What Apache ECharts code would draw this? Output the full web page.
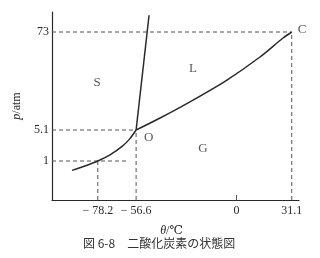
<!DOCTYPE html>
<html>
<head>
<meta charset="utf-8">
<script src="https://cdn.jsdelivr.net/npm/echarts@6/dist/echarts.min.js"></script>
<style>html,body{margin:0;padding:0;background:#fff}#c{width:320px;height:258px}</style>
</head>
<body>
<div id="c"></div>
<script>
// ---- data (temperature in °C, pressure in atm) ----
const xTicks = [-78.2, -56.6, 0, 31.1];
const yTicks = [1, 5.1, 73];
const sublimation = [[-92.7, 0.61], [-85.4, 0.77], [-78.2, 1], [-71.3, 1.38], [-64.5, 2.15], [-60.2, 3.2], [-56.6, 5.1]];
const vaporization = [[-56.6, 5.1], [-43.1, 7.06], [-24.5, 11.5], [-5.4, 19.8], [13.2, 37.0], [26.2, 62.0], [31.1, 73]];
const melting = [[-56.6, 5.1], [-49.3, 115]];
const triplePoint = [-56.6, 5.1];
const criticalPoint = [31.1, 73];
const point1atm = [-78.2, 1];
const guide1End = -61.7;
const regionNames = ['S', 'L', 'G'];
const regionPos = [[-78.6, 18.3], [-24.5, 26.7], [-18.9, 1.88]];
const caption = '図 6-8\u3000二酸化炭素の状態図';

// ---- schematic (broken) pressure scale: pressure -> axis level ----
const anchorP = [1, 5.1, 73];
const anchorLv = [39, 70, 168];
function lv(p) {
  const L = Math.log10(p);
  const a = anchorP.map(Math.log10);
  const i = L <= a[1] ? 0 : 1;
  return anchorLv[i] + (L - a[i]) * (anchorLv[i + 1] - anchorLv[i]) / (a[i + 1] - a[i]);
}
const toPt = d => [d[0], lv(d[1])];

const xMin = -104, xMax = 35.2;
const serif = '"Liberation Serif", "DejaVu Serif", serif';
const ink = '#2a2a2a';
const dashStyle = { color: '#555', width: 1, type: [4, 3] };

const guides = [
  [[xMin, lv(point1atm[1])], [guide1End, lv(point1atm[1])]],
  [[xMin, lv(triplePoint[1])], toPt(triplePoint)],
  [[xMin, lv(criticalPoint[1])], toPt(criticalPoint)],
  [[point1atm[0], 0], toPt(point1atm)],
  [[triplePoint[0], 0], toPt(triplePoint)],
  [[criticalPoint[0], 0], toPt(criticalPoint)]
];

const series = [];
guides.forEach(g => series.push({
  type: 'line', data: g, symbol: 'none', silent: true,
  lineStyle: dashStyle, z: 1
}));
series.push({ type: 'line', data: sublimation.map(toPt), smooth: 0.3, symbol: 'none', lineStyle: { color: ink, width: 1.5 }, z: 3 });
series.push({ type: 'line', data: vaporization.map(toPt), smooth: 0.3, symbol: 'none', lineStyle: { color: ink, width: 1.5 }, z: 3 });
series.push({ type: 'line', data: melting.map(toPt), symbol: 'none', lineStyle: { color: ink, width: 1.5 }, z: 3 });
series.push({
  type: 'scatter', symbolSize: 0, z: 4,
  data: regionNames.map((n, i) => ({ name: n, value: toPt(regionPos[i]) })),
  label: { show: true, position: 'inside', formatter: '{b}', color: ink, fontFamily: serif, fontSize: 13 }
});
series.push({
  type: 'scatter', symbolSize: 0, z: 4,
  data: [
    { name: 'O', value: toPt(triplePoint), label: { position: 'right', offset: [3, 8] } },
    { name: 'C', value: toPt(criticalPoint), label: { position: 'right', offset: [1, -2] } }
  ],
  label: { show: true, formatter: '{b}', color: ink, fontFamily: serif, fontSize: 13 }
});

const chart = echarts.init(document.getElementById('c'), null, { renderer: 'canvas' });
chart.setOption({
  animation: false,
  backgroundColor: '#fff',
  grid: { left: 52, right: 21, top: 12, bottom: 58 },
  xAxis: {
    type: 'value', min: xMin, max: xMax,
    name: '{i|θ}/℃', nameLocation: 'middle', nameGap: 25,
    nameTextStyle: { color: ink, fontFamily: serif, fontSize: 12, padding: [0, 8, 0, 0], rich: { i: { fontStyle: 'italic', fontFamily: serif, fontSize: 12, color: ink } } },
    axisLine: { onZero: false, lineStyle: { color: ink, width: 1.2 } },
    axisTick: { show: true, inside: true, length: 5, customValues: [0], lineStyle: { color: '#555' } },
    axisLabel: {
      customValues: xTicks, color: ink, fontFamily: serif, fontSize: 12, margin: 5,
      formatter: v => v < 0 ? '\u2212 ' + Math.abs(v) : String(v)
    },
    splitLine: { show: false }
  },
  yAxis: {
    type: 'value', min: 0, max: 188,
    name: '{i|p}/atm', nameLocation: 'middle', nameGap: 19,
    nameTextStyle: { color: ink, fontFamily: serif, fontSize: 12, rich: { i: { fontStyle: 'italic', fontFamily: serif, fontSize: 12, color: ink } } },
    axisLine: { show: true, onZero: false, lineStyle: { color: ink, width: 1.2 } },
    axisTick: { show: false },
    axisLabel: {
      customValues: yTicks.map(lv), color: ink, fontFamily: serif, fontSize: 12, margin: 3,
      formatter: v => { const i = yTicks.findIndex(p => Math.abs(lv(p) - v) < 0.01); return i >= 0 ? String(yTicks[i]) : ''; }
    },
    splitLine: { show: false }
  },
  graphic: [{
    type: 'text', left: 83, top: 237,
    style: { text: caption, fill: '#333', font: '12px "Noto Sans CJK JP"' }
  }],
  series: series
});
</script>
</body>
</html>
